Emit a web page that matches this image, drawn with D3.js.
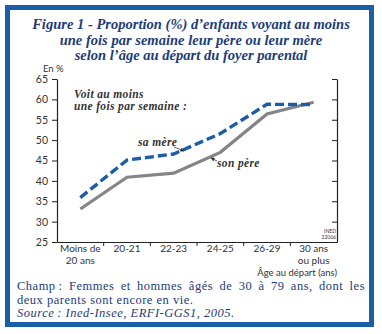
<!DOCTYPE html>
<html><head><meta charset="utf-8">
<script src="https://cdn.jsdelivr.net/npm/d3@7"></script>
<style>body{margin:0;background:#fff}</style>
</head><body>
<svg id="c" width="382" height="334"></svg>
<script>
const categories = [["Moins de","20 ans"],["20-21"],["22-23"],["24-25"],["26-29"],["30 ans","ou plus"]];
const mere = [35.9, 45.1, 46.6, 51.6, 58.8, 58.7];
const pere = [33.1, 40.9, 41.9, 47.0, 56.4, 59.3];
const yTicks = [25,30,35,40,45,50,55,60,65];
const titleLines = ["Figure 1 - Proportion (%) d\u2019enfants voyant au moins","une fois par semaine leur p\u00e8re ou leur m\u00e8re","selon l\u2019\u00e2ge au d\u00e9part du foyer parental"];

const svg = d3.select("#c");
const blue = "#1a5ea8", navy = "#1d3c78";
svg.append("rect").attr("x",7.5).attr("y",7.5).attr("width",364).attr("height",317)
  .attr("fill","#fff").attr("stroke",blue).attr("stroke-width",5);

const serif = "'Liberation Serif', 'DejaVu Serif', serif";
const sans = "Lato, 'Open Sans', sans-serif";
const tg = svg.append("g").selectAll("text").data(titleLines).join("text")
  .attr("x",191).attr("y",(d,i)=>29+i*15.5).attr("text-anchor","middle")
  .attr("font-family",serif).attr("font-style","italic").attr("font-weight","bold")
  .attr("font-size",15).attr("fill",navy).text(d=>d);
const tw = tg.nodes()[0].getComputedTextLength();
tg.attr("font-size", 15*318/tw);

const L=57,R=337,T=79,B=242;
const x = d3.scaleBand().domain(d3.range(categories.length)).range([L,R]);
const y = d3.scaleLinear().domain([25,65]).range([B,T]);

const ax = svg.append("g").attr("color","#222");
ax.append("g").attr("transform",`translate(${L},0)`)
  .call(d3.axisLeft(y).tickValues(yTicks).tickSize(5).tickSizeOuter(0))
  .call(g=>g.selectAll("text").attr("font-family",sans).attr("font-size",10.5).attr("fill","#333").attr("dx",-1));
ax.append("g").attr("transform",`translate(${R},0)`)
  .call(d3.axisLeft(y).tickValues(yTicks).tickSize(5).tickSizeOuter(0).tickFormat(""));
const xb = ax.append("g").attr("transform",`translate(0,${B})`)
  .call(d3.axisBottom(x).tickSize(0).tickSizeOuter(0).tickFormat(""));
xb.selectAll(".tk").data(d3.range(1,categories.length)).join("line").attr("class","tk")
  .attr("x1",i=>x(i)).attr("x2",i=>x(i)).attr("y1",0).attr("y2",4).attr("stroke","#222");
ax.selectAll("path.domain").attr("stroke","#222").attr("stroke-width",1.2);

const xl = svg.append("g").attr("font-family",sans).attr("font-size",10).attr("fill","#333").attr("text-anchor","middle");
categories.forEach((c,i)=>{
  c.forEach((s,j)=>xl.append("text").attr("x",x(i)+x.bandwidth()/2).attr("y",252+j*11.5).text(s));
});
xl.append("text").attr("x",R).attr("y",276).attr("font-size",9.5).attr("text-anchor","end").text("\u00c2ge au d\u00e9part (ans)");
svg.append("text").attr("x",43).attr("y",72).attr("font-family",sans).attr("font-size",9.5).attr("fill","#333").text("En %");

const line = d3.line().x((d,i)=>x(i)+x.bandwidth()/2).y(d=>y(d));
svg.append("path").datum(pere).attr("d",line).attr("fill","none").attr("stroke","#858585").attr("stroke-width",3.2);
svg.append("path").datum(mere).attr("d",line).attr("fill","none").attr("stroke",blue).attr("stroke-width",3.4).attr("stroke-dasharray","9,4");

const ann = svg.append("g").attr("font-family",serif).attr("font-style","italic").attr("font-weight","bold").attr("font-size",11.5).attr("letter-spacing",0.35).attr("fill","#333");
ann.append("text").attr("x",74).attr("y",98).text("Voit au moins");
ann.append("text").attr("x",74).attr("y",110).text("une fois par semaine :");
ann.append("text").attr("x",138).attr("y",146).text("sa m\u00e8re");
ann.append("text").attr("x",217).attr("y",167).text("son p\u00e8re");
svg.append("defs").append("marker").attr("id","ah").attr("viewBox","0 0 10 10").attr("refX",9).attr("refY",5)
  .attr("markerWidth",5).attr("markerHeight",5).attr("orient","auto")
  .append("path").attr("d","M0,0L10,5L0,10z").attr("fill","#333");
svg.append("line").attr("x1",174).attr("y1",147).attr("x2",184).attr("y2",151).attr("stroke","#333").attr("stroke-width",0.8).attr("marker-end","url(#ah)");
svg.append("line").attr("x1",217).attr("y1",161).attr("x2",211).attr("y2",158).attr("stroke","#333").attr("stroke-width",0.8).attr("marker-end","url(#ah)");

const ined = svg.append("g").attr("font-family",sans).attr("font-size",5).attr("fill","#333").attr("text-anchor","end");
ined.append("text").attr("x",R-1).attr("y",233).text("INED");
ined.append("text").attr("x",R-1).attr("y",238.5).text("22006");

const note = svg.append("g").attr("font-family",serif).attr("font-size",12.5).attr("letter-spacing",0.5).attr("fill",navy);
const l1 = note.append("text").attr("x",17).attr("y",290).text("Champ\u2009: Femmes et hommes \u00e2g\u00e9s de 30 \u00e0 79 ans, dont les");
const w = l1.node().getComputedTextLength();
const target = 365-17;
const spaces = (l1.text().match(/ /g)||[]).length;
l1.attr("word-spacing", Math.max(0,(target-w)/spaces));
note.append("text").attr("x",17).attr("y",303.5).text("deux parents sont encore en vie.");
note.append("text").attr("x",17).attr("y",317).attr("font-style","italic").text("Source\u2009: Ined-Insee, ERFI-GGS1, 2005.");
</script>
</body></html>
